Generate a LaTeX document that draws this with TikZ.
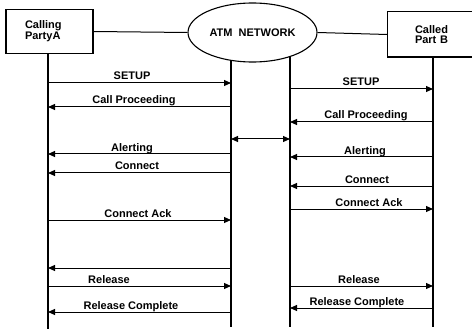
\documentclass[tikz,border=0pt]{standalone}
\usepackage{fontspec}
\setmainfont{Liberation Sans}
\usetikzlibrary{arrows.meta,shapes.geometric}
\begin{document}
\begin{tikzpicture}[x=1pt,y=-1pt,
  every node/.style={font=\fontsize{11}{9.5}\selectfont\bfseries},
  lifeline/.style={line width=1.1pt},
  link/.style={line width=1pt},
  msg/.style={line width=1pt,-{Triangle[length=7pt,width=6pt]}},
  dmsg/.style={line width=1pt,{Triangle[length=7pt,width=6pt]}-{Triangle[length=7pt,width=6pt]}},
  lbl/.style={anchor=base,inner sep=0pt},
  partybox/.style={line width=1.2pt,minimum height=44pt,align=left}]
\useasboundingbox (0,0) rectangle (472,329);
% party boxes and network
\node[partybox,draw,text width=49pt,inner xsep=19pt] (A) at (49.5,31.5) {Calling\\PartyA};
\node[partybox,text width=40pt,inner xsep=27pt] (B) at (435,34.5) {Called\\Part B};
\draw[line width=1.2pt] (B.north east) -- (B.north west) -- (B.south west) -- (B.south east);
\node[draw,ellipse,line width=1.1pt,minimum width=129pt,minimum height=59pt,inner sep=0pt] (N) at (252.5,32.5) {ATM\ \ NETWORK};
\draw[link] (A.east) -- (N.west);
\draw[link] (N.east) -- (B.west);
% lifeline positions
\coordinate (xA) at (48,0);
\coordinate (xL) at (231,0);
\coordinate (xR) at (290,0);
\coordinate (xB) at (433,0);
\draw[lifeline] (xA |- A.south) -- (xA |- 0,329);
\draw[lifeline] (xL |- 0,60) -- (xL |- 0,327);
\draw[lifeline] (xR |- 0,56.5) -- (xR |- 0,327);
\draw[lifeline] (xB |- B.south) -- (xB |- 0,327);
% left side messages
\draw[msg] (xA |- 0,83) -- (xL |- 0,83);
\node[lbl] (l1) at (132,80) {SETUP};
\draw[msg] (xL |- 0,107) -- (xA |- 0,107);
\node[lbl] (l2) at (134,104) {Call Proceeding};
\draw[msg] (xL |- 0,154) -- (xA |- 0,154);
\node[lbl] (l3) at (132,151) {Alerting};
\draw[msg] (xL |- 0,173) -- (xA |- 0,173);
\node[lbl] (l4) at (137,170) {Connect};
\draw[msg] (xA |- 0,220) -- (xL |- 0,220);
\node[lbl] (l5) at (138,217) {Connect Ack};
\draw[msg] (xL |- 0,268) -- (xA |- 0,268);
\draw[msg] (xA |- 0,286) -- (xL |- 0,286);
\node[lbl] (l6) at (109,283) {Release};
\draw[msg] (xL |- 0,312) -- (xA |- 0,312);
\node[lbl] (l7) at (131,309) {Release Complete};
% middle
\draw[dmsg] (xL |- 0,139) -- (xR |- 0,139);
% right side messages
\draw[msg] (xR |- 0,89) -- (xB |- 0,89);
\node[lbl] (r1) at (361,86) {SETUP};
\draw[msg] (xB |- 0,122) -- (xR |- 0,122);
\node[lbl] (r2) at (366,119) {Call Proceeding};
\draw[msg] (xB |- 0,157) -- (xR |- 0,157);
\node[lbl] (r3) at (365,154) {Alerting};
\draw[msg] (xB |- 0,186) -- (xR |- 0,186);
\node[lbl] (r4) at (367,183) {Connect};
\draw[msg] (xR |- 0,209) -- (xB |- 0,209);
\node[lbl] (r5) at (369,206) {Connect Ack};
\draw[msg] (xR |- 0,286) -- (xB |- 0,286);
\node[lbl] (r6) at (359,283) {Release};
\draw[msg] (xB |- 0,308) -- (xR |- 0,308);
\node[lbl] (r7) at (357,305) {Release Complete};
\end{tikzpicture}
\end{document}
